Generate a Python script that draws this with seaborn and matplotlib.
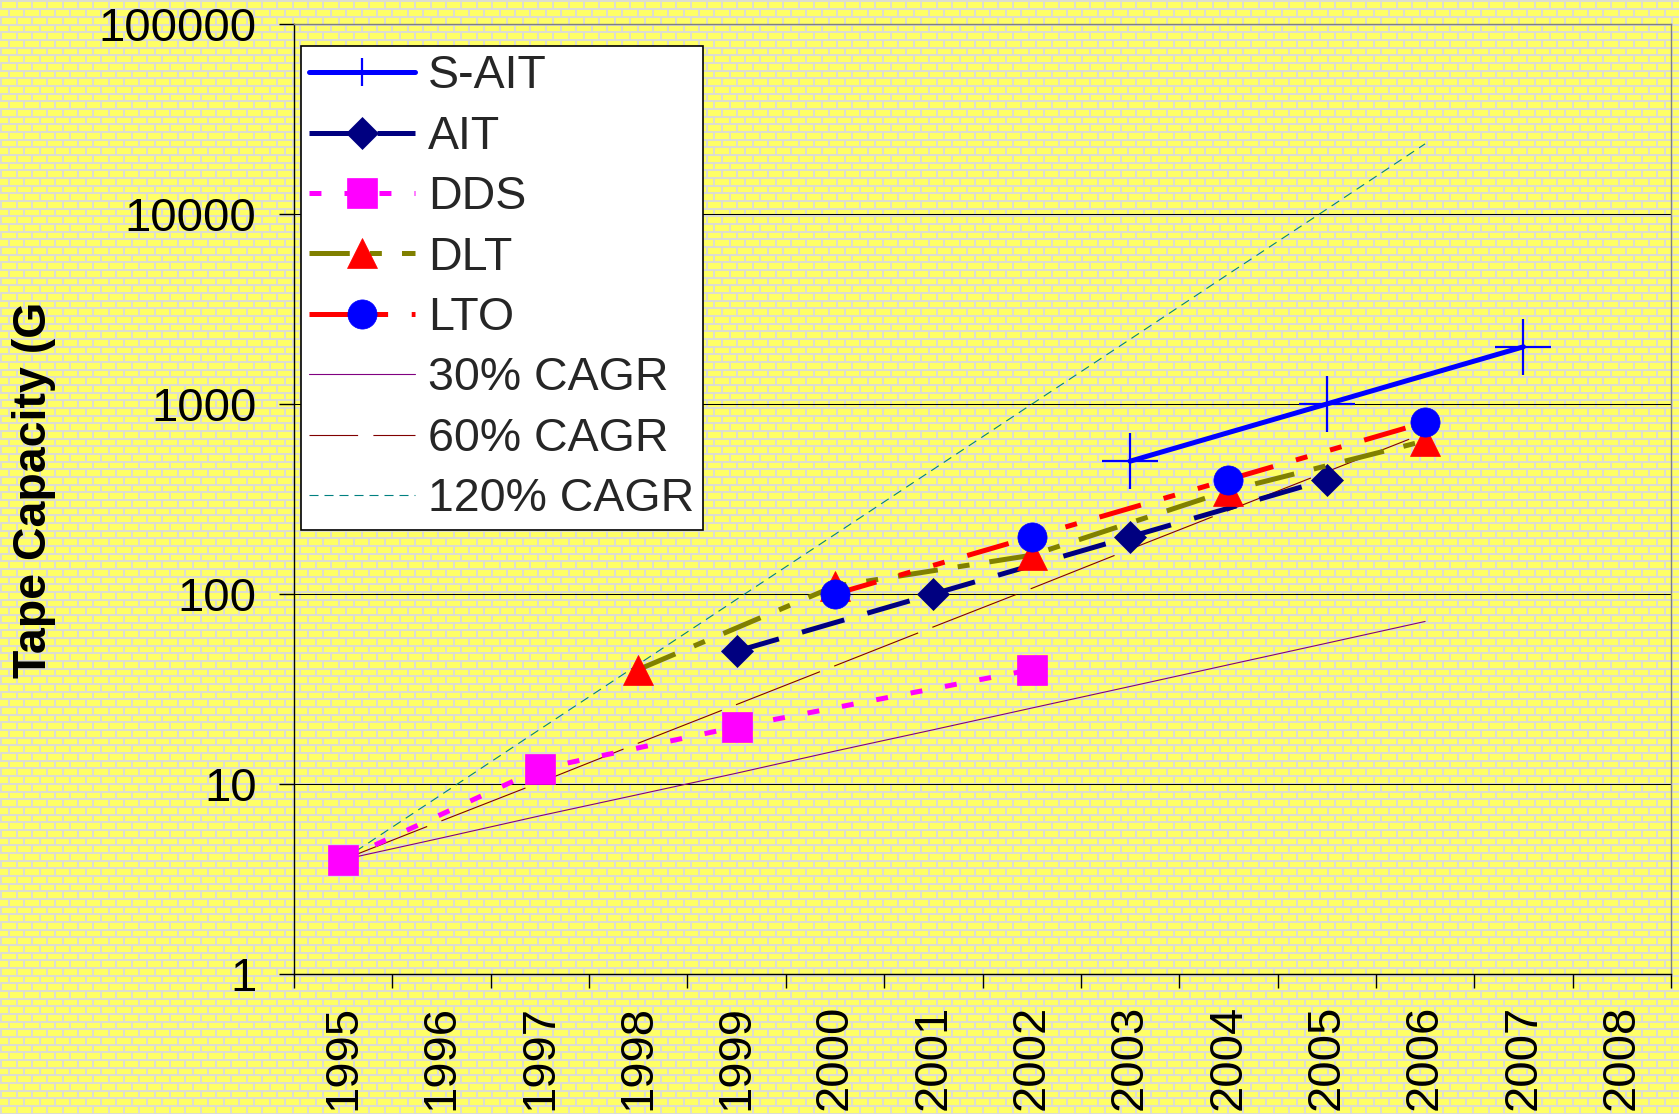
import numpy as np
import matplotlib
matplotlib.use("Agg")
import matplotlib.pyplot as plt
from matplotlib.lines import Line2D
from matplotlib.ticker import FixedLocator, FixedFormatter, NullFormatter, NullLocator
import seaborn as sns

# categorias do eixo x
years = list(range(1995, 2009))
year_labels = [str(y) for y in years]

# séries de fitas (GB)
sait_years = [2003, 2005, 2007]
sait_gb = [500, 1000, 2000]
ait_years = [1999, 2001, 2003, 2005]
ait_gb = [50, 100, 200, 400]
dds_years = [1995, 1997, 1999, 2002]
dds_gb = [4, 12, 20, 40]
dlt_years = [1998, 2000, 2002, 2004, 2006]
dlt_gb = [40, 110, 160, 350, 640]
lto_years = [2000, 2002, 2004, 2006]
lto_gb = [100, 200, 400, 800]

# linhas de referência CAGR
cagr_years = list(range(1995, 2007))
cagr30 = [4, 5.2, 6.8, 8.8, 11.4, 14.9, 19.3, 25.1, 32.6, 42.4, 55.1, 71.7]
cagr60 = [4, 6.4, 10.2, 16.4, 26.2, 41.9, 67.1, 107, 172, 275, 440, 704]
cagr120 = [4, 8.8, 19.4, 42.6, 93.7, 206, 453, 997, 2190, 4830, 10600, 23400]

y_ticks = [1, 10, 100, 1000, 10000, 100000]
y_tick_labels = ["1", "10", "100", "1000", "10000", "100000"]

sns.set_theme(style="white")
plt.rcParams["font.family"] = ["Liberation Sans", "DejaVu Sans"]
plt.rcParams["lines.scale_dashes"] = False

W, H = 1679, 1114
fig = plt.figure(figsize=(W / 100, H / 100), dpi=100)
fig.patch.set_facecolor("#FFFF66")

# fundo de tijolinhos amarelos
yy, xx = np.mgrid[0:H, 0:W]
row_h, brick_w, mortar = 7.67, 15.33, 2.0
row = np.floor(yy / row_h)
in_row = yy - row * row_h
shift = (row % 2) * brick_w / 2
in_brick = np.mod(xx + shift, brick_w)
is_mortar = (in_row < mortar) | (in_brick < mortar)
tex = np.empty((H, W, 3))
tex[:] = [1.0, 1.0, 0.4]
tex[is_mortar] = [0.87, 0.87, 0.82]
fig.figimage(tex, 0, 0, origin="upper", zorder=-5)

ax = fig.add_axes([294 / W, 1 - 974 / H, (1671 - 294) / W, (974 - 24) / H])
ax.set_facecolor("none")
ax.set_yscale("log")


def desenha(xs, ys, **kw):
    sns.lineplot(x=xs, y=ys, ax=ax, errorbar=None, sort=False, **kw)


# CAGR
st30 = dict(color="#800080", lw=0.8, linestyle="-")
st60 = dict(color="#800000", lw=0.8, linestyle=(0, (65, 11)))
st120 = dict(color="#008080", lw=0.8, linestyle=(0, (6.5, 4.3)))
desenha(cagr_years, cagr30, zorder=2, **st30)
desenha(cagr_years, cagr60, zorder=2, **st60)
desenha(cagr_years, cagr120, zorder=2, **st120)

# séries
st_sait = dict(color="#0000FF", lw=3.6, linestyle="-", marker="+", mec="#0000FF", mew=1.6)
st_ait = dict(color="#000080", lw=3.6, linestyle=(0, (31.7, 17.3)), marker="D",
              mfc="#000080", mec="#000080", mew=0.5)
st_dds = dict(color="#FF00FF", lw=3.6, linestyle=(0, (8.6, 16.6)), marker="s",
              mfc="#FF00FF", mec="#FF00FF", mew=0.5)
st_dlt = dict(color="#808000", lw=3.6, linestyle=(0, (29, 14.5, 8.6, 14.5)), marker="^",
              mfc="#FF0000", mec="#FF0000", mew=0.5)
st_lto = dict(color="#FF0000", lw=3.6, linestyle=(0, (31, 17, 8.6, 17, 8.6, 17)), marker="o",
              mfc="#0000FF", mec="#0000FF", mew=0.5)

desenha(sait_years, sait_gb, ms=40, zorder=3, **st_sait)
desenha(ait_years, ait_gb, ms=16.3, zorder=4, **st_ait)
desenha(dds_years, dds_gb, ms=21, zorder=5, **st_dds)
desenha(dlt_years, dlt_gb, ms=21.5, zorder=6, **st_dlt)
desenha(lto_years, lto_gb, ms=21, zorder=7, **st_lto)

# eixos
ax.set_xlim(years[0] - 0.5, years[-1] + 0.5)
ax.set_ylim(y_ticks[0], y_ticks[-1])
ax.xaxis.set_major_locator(FixedLocator([y - 0.5 for y in years] + [years[-1] + 0.5]))
ax.xaxis.set_major_formatter(NullFormatter())
ax.xaxis.set_minor_locator(FixedLocator(years))
ax.xaxis.set_minor_formatter(FixedFormatter(year_labels))
ax.yaxis.set_major_locator(FixedLocator(y_ticks))
ax.yaxis.set_major_formatter(FixedFormatter(y_tick_labels))
ax.yaxis.set_minor_locator(NullLocator())
ax.tick_params(axis="x", which="major", bottom=True, length=10, width=1, color="black",
               direction="out")
ax.tick_params(axis="x", which="minor", bottom=True, length=0, pad=22, labelsize=34,
               labelrotation=90, labelcolor="black")
ax.tick_params(axis="y", which="major", left=True, length=11, width=1, color="black",
               direction="out", pad=16, labelsize=34, labelcolor="black")
ax.set_xlabel("")
ax.set_ylabel("")
ax.grid(False)
ax.yaxis.grid(True, which="major", color="black", lw=0.75)
ax.set_axisbelow(True)
for lado in ["left", "bottom"]:
    ax.spines[lado].set_color("black")
    ax.spines[lado].set_linewidth(1)
for lado in ["top", "right"]:
    ax.spines[lado].set_color("#808080")
    ax.spines[lado].set_linewidth(1)

fig.text(34 / W, 1 - 490 / H, "Tape Capacity (G", rotation=90, fontsize=33.5,
         fontweight="bold", ha="center", va="center", color="black")

# legenda
nomes = ["S-AIT", "AIT", "DDS", "DLT", "LTO", "30% CAGR", "60% CAGR", "120% CAGR"]
handles = [
    Line2D([], [], ms=20, **st_sait),
    Line2D([], [], ms=16.3, **st_ait),
    Line2D([], [], ms=21, **st_dds),
    Line2D([], [], ms=21.5, **st_dlt),
    Line2D([], [], ms=21, **st_lto),
    Line2D([], [], **st30),
    Line2D([], [], color="#800000", lw=0.8, linestyle=(0, (35, 11))),
    Line2D([], [], **st120),
]
leg = ax.legend(handles, nomes, loc="upper left", bbox_to_anchor=(301 / W, 1 - 46 / H),
                bbox_transform=fig.transFigure, fontsize=33.5, frameon=True, fancybox=False,
                framealpha=1, facecolor="white", edgecolor="black", handlelength=2.28,
                handletextpad=0.27, borderpad=0.18, labelspacing=0.353, borderaxespad=0)
leg.get_frame().set_linewidth(1.2)
leg.set_zorder(10)

fig.savefig("out.png", dpi=100)
